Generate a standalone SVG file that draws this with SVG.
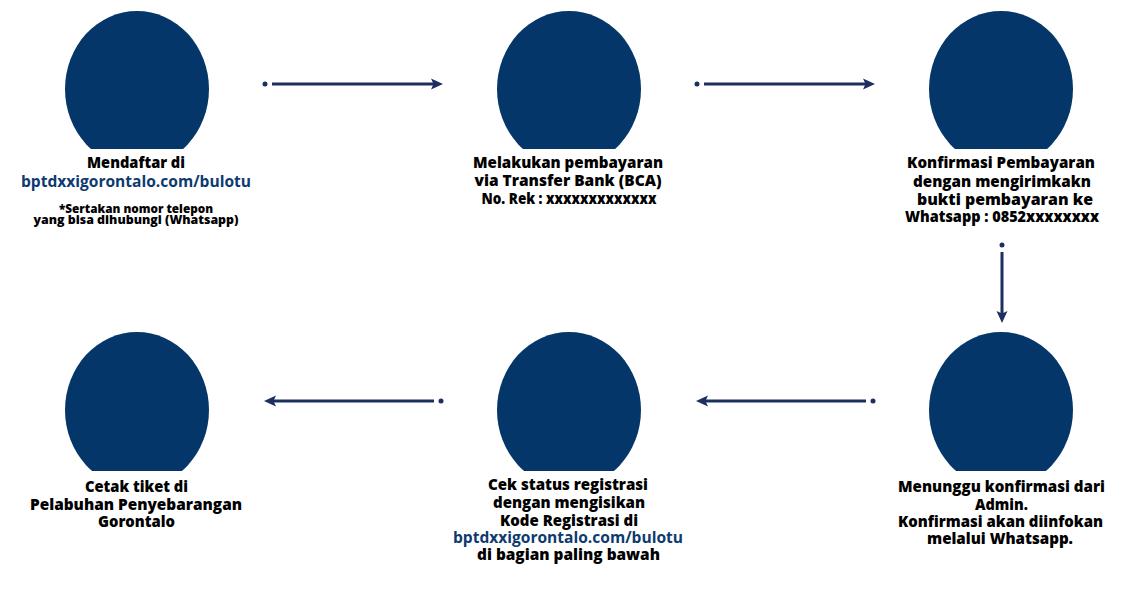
<svg xmlns="http://www.w3.org/2000/svg" width="1140" height="599" viewBox="0 0 1140 599">
<defs>
<style>
.c{fill:#04366a}
.t{font-family:"Open Sans","Liberation Sans",sans-serif;font-weight:800;font-size:16px;fill:#000;text-anchor:middle}
.l{fill:#0d3b70;font-weight:700}
.s{font-size:11.5px}
.a{stroke:#1c2f5f;stroke-width:3;fill:none;marker-start:url(#dot);marker-end:url(#ah)}
</style>
<marker id="ah" markerUnits="userSpaceOnUse" viewBox="0 0 12 12" refX="4" refY="6" markerWidth="12" markerHeight="12" orient="auto">
<path d="M0,0.5 L12,6 L0,11.5 L2.5,6 z" fill="#1c2f5f"/>
</marker>
<marker id="dot" markerUnits="userSpaceOnUse" viewBox="-10 -5 12 10" refX="0" refY="0" markerWidth="12" markerHeight="10" orient="auto">
<circle cx="-7" cy="0" r="2.5" fill="#1c2f5f"/>
</marker>
<clipPath id="ct" clipPathUnits="userSpaceOnUse"><rect x="0" y="0" width="1140" height="149"/></clipPath>
<clipPath id="cb" clipPathUnits="userSpaceOnUse"><rect x="0" y="300" width="1140" height="171"/></clipPath>
</defs>
<rect width="1140" height="599" fill="#fff"/>
<g id="connectors">
<path class="a" d="M272,84 H435"/>
<path class="a" d="M704,84 H867"/>
<path class="a" d="M1002,252 V315"/>
<path class="a" d="M866,401 H704"/>
<path class="a" d="M434,401 H272"/>
</g>
<g id="node1">
<ellipse class="c" cx="137" cy="89" rx="72" ry="78" clip-path="url(#ct)"/>
<text class="t" x="136" y="168" textLength="98" lengthAdjust="spacingAndGlyphs">Mendaftar di</text>
<text class="t l" x="136" y="186.5" textLength="230" lengthAdjust="spacingAndGlyphs">bptdxxigorontalo.com/bulotu</text>
<text class="t s" x="136" y="212.5" textLength="154" lengthAdjust="spacingAndGlyphs">*Sertakan nomor telepon</text>
<text class="t s" x="136" y="224" textLength="205" lengthAdjust="spacingAndGlyphs">yang bisa dihubungi (Whatsapp)</text>
</g>
<g id="node2">
<ellipse class="c" cx="569" cy="89" rx="72" ry="78" clip-path="url(#ct)"/>
<text class="t" x="568" y="168" textLength="190" lengthAdjust="spacingAndGlyphs">Melakukan pembayaran</text>
<text class="t" x="568" y="186" textLength="187" lengthAdjust="spacingAndGlyphs">via Transfer Bank (BCA)</text>
<text class="t" x="569" y="204" textLength="175" lengthAdjust="spacingAndGlyphs">No. Rek : xxxxxxxxxxxxx</text>
</g>
<g id="node3">
<ellipse class="c" cx="1001" cy="89" rx="72" ry="78" clip-path="url(#ct)"/>
<text class="t" x="1001" y="168" textLength="188" lengthAdjust="spacingAndGlyphs">Konfirmasi Pembayaran</text>
<text class="t" x="1002" y="186.5" textLength="178" lengthAdjust="spacingAndGlyphs">dengan mengirimkakn</text>
<text class="t" x="1005" y="204.5" textLength="176" lengthAdjust="spacingAndGlyphs">bukti pembayaran ke</text>
<text class="t" x="1002" y="222" textLength="194" lengthAdjust="spacingAndGlyphs">Whatsapp : 0852xxxxxxxx</text>
</g>
<g id="node4">
<ellipse class="c" cx="1001" cy="410" rx="72" ry="78" clip-path="url(#cb)"/>
<text class="t" x="1001.5" y="492" textLength="207" lengthAdjust="spacingAndGlyphs">Menunggu konfirmasi dari</text>
<text class="t" x="1001.5" y="509.5" textLength="53" lengthAdjust="spacingAndGlyphs">Admin.</text>
<text class="t" x="1000.5" y="527" textLength="205" lengthAdjust="spacingAndGlyphs">Konfirmasi akan diinfokan</text>
<text class="t" x="1000" y="544" textLength="146" lengthAdjust="spacingAndGlyphs">melalui Whatsapp.</text>
</g>
<g id="node5">
<ellipse class="c" cx="569" cy="410" rx="72" ry="78" clip-path="url(#cb)"/>
<text class="t" x="568" y="490" textLength="160" lengthAdjust="spacingAndGlyphs">Cek status registrasi</text>
<text class="t" x="569" y="508" textLength="152" lengthAdjust="spacingAndGlyphs">dengan mengisikan</text>
<text class="t" x="569" y="525.5" textLength="138" lengthAdjust="spacingAndGlyphs">Kode Registrasi di</text>
<text class="t l" x="568" y="543" textLength="230" lengthAdjust="spacingAndGlyphs">bptdxxigorontalo.com/bulotu</text>
<text class="t" x="568.5" y="560" textLength="183" lengthAdjust="spacingAndGlyphs">di bagian paling bawah</text>
</g>
<g id="node6">
<ellipse class="c" cx="137" cy="410" rx="72" ry="78" clip-path="url(#cb)"/>
<text class="t" x="136.5" y="492" textLength="103" lengthAdjust="spacingAndGlyphs">Cetak tiket di</text>
<text class="t" x="136" y="509.5" textLength="212" lengthAdjust="spacingAndGlyphs">Pelabuhan Penyebarangan</text>
<text class="t" x="136.5" y="527" textLength="77" lengthAdjust="spacingAndGlyphs">Gorontalo</text>
</g>
</svg>
